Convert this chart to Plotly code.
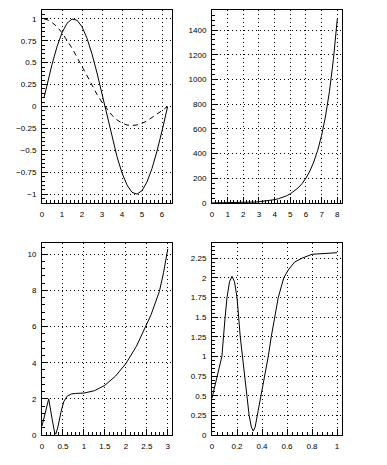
import plotly.graph_objects as go

# ---- data ----
p1_x = [0.1, 0.25, 0.5, 0.75, 1.0, 1.25, 1.5, 1.75, 2.0, 2.25, 2.5, 2.75, 3.0, 3.25,
        3.5, 3.75, 4.0, 4.25, 4.5, 4.75, 5.0, 5.25, 5.5, 5.75, 6.0, 6.25, 6.28]
p1_solid = [0.10, 0.247, 0.479, 0.682, 0.841, 0.949, 0.997, 0.984, 0.909, 0.778, 0.598,
            0.382, 0.141, -0.108, -0.351, -0.572, -0.757, -0.895, -0.978, -0.999, -0.959,
            -0.859, -0.706, -0.508, -0.279, -0.033, -0.003]
p1_dashed = [0.998, 0.990, 0.959, 0.909, 0.841, 0.759, 0.665, 0.562, 0.455, 0.346, 0.239,
             0.139, 0.047, -0.033, -0.100, -0.153, -0.189, -0.211, -0.217, -0.210, -0.192,
             -0.164, -0.128, -0.088, -0.047, -0.005, 0.0]

p2_x = [0, 0.25, 0.5, 0.75, 1, 1.25, 1.5, 1.75, 2, 2.25, 2.5, 2.75, 3, 3.25, 3.5, 3.75,
        4, 4.25, 4.5, 4.75, 5, 5.25, 5.5, 5.75, 6, 6.25, 6.5, 6.75, 7, 7.25, 7.5, 7.75, 8]
p2_y = [0.5, 0.64, 0.82, 1.06, 1.36, 1.75, 2.24, 2.88, 3.7, 4.7, 6.1, 7.8, 10.0, 12.9,
        16.6, 21.3, 27.3, 35.0, 45.0, 57.8, 74.2, 95.3, 122.3, 157.1, 201.7, 259.0,
        332.6, 427.0, 548.3, 704.1, 904.0, 1160.8, 1490.5]

p3_x = [0, 0.08, 0.16, 0.24, 0.30, 0.33, 0.38, 0.45, 0.52, 0.60, 0.70, 0.80, 0.90, 1.0,
        1.25, 1.5, 1.75, 2.0, 2.25, 2.5, 2.6, 2.7, 2.8, 2.9, 3.0]
p3_y = [0.5, 1.25, 2.0, 0.9, 0.15, 0.05, 0.45, 1.25, 1.85, 2.15, 2.27, 2.30, 2.31, 2.32,
        2.45, 2.75, 3.25, 3.95, 4.9, 6.1, 6.65, 7.3, 7.95, 9.0, 10.3]

p4_x = [0, 0.047, 0.079, 0.105, 0.12, 0.14, 0.16, 0.18, 0.2, 0.226, 0.245, 0.28, 0.297,
        0.315, 0.33, 0.345, 0.363, 0.395, 0.42, 0.45, 0.474, 0.5, 0.53, 0.574, 0.61,
        0.66, 0.72, 0.8, 0.9, 1.0]
p4_y = [0.47, 0.79, 1.0, 1.5, 1.75, 1.95, 2.02, 1.95, 1.75, 1.25, 1.0, 0.5, 0.25, 0.1,
        0.05, 0.1, 0.25, 0.5, 0.75, 1.0, 1.25, 1.5, 1.75, 2.0, 2.1, 2.2, 2.25, 2.3,
        2.31, 2.32]

# ---- layout helpers ----
W, H = 387, 465
FONT = dict(family="Liberation Sans", size=8, color="black")


def xd(l, r):
    return [l / W, r / W]


def yd(t, b):
    return [1 - b / H, 1 - t / H]


def axis(domain, rng, dtick, minor, anchor):
    return dict(
        domain=domain, range=rng, anchor=anchor, dtick=dtick, tick0=0,
        automargin=False,
        showline=True, mirror=True, linecolor="black", linewidth=1,
        ticks="inside", ticklen=6, tickcolor="black", tickwidth=1,
        minor=dict(ticks="inside", ticklen=3, dtick=minor, tick0=0,
                   tickcolor="black", tickwidth=1, showgrid=False),
        showgrid=True, gridcolor="black", gridwidth=1, griddash="1px,3px",
        zeroline=False, tickfont=FONT, ticklabelstandoff=3, fixedrange=True,
    )


fig = go.Figure()
line = dict(color="black", width=1)
fig.add_trace(go.Scatter(x=p1_x, y=p1_solid, mode="lines", line=line, xaxis="x", yaxis="y"))
fig.add_trace(go.Scatter(x=p1_x, y=p1_dashed, mode="lines",
                         line=dict(color="black", width=1, dash="5px,4px"), xaxis="x", yaxis="y"))
fig.add_trace(go.Scatter(x=p2_x, y=p2_y, mode="lines", line=line, xaxis="x2", yaxis="y2"))
fig.add_trace(go.Scatter(x=p3_x, y=p3_y, mode="lines", line=line, xaxis="x3", yaxis="y3"))
fig.add_trace(go.Scatter(x=p4_x, y=p4_y, mode="lines", line=line, xaxis="x4", yaxis="y4"))

top = yd(10, 203)
bot = yd(242.5, 435)
left = xd(42, 172)
right = xd(212, 342)

fig.update_layout(
    template="none",
    width=W, height=H, autosize=False,
    margin=dict(l=0, r=0, t=0, b=0, pad=0),
    paper_bgcolor="white", plot_bgcolor="white",
    showlegend=False,
    xaxis=axis(left, [0, 6.5], 1, 0.2, "y"),
    yaxis=axis(top, [-1.1, 1.1], 0.25, 0.05, "x"),
    xaxis2=axis(right, [0, 8.3], 1, 0.2, "y2"),
    yaxis2=axis(top, [0, 1562], 200, 40, "x2"),
    xaxis3=axis(left, [0, 3.1], 0.5, 0.1, "y3"),
    yaxis3=axis(bot, [0, 10.65], 2, 0.4, "x3"),
    xaxis4=axis(right, [0, 1.04], 0.2, 0.04, "y4"),
    yaxis4=axis(bot, [0, 2.45], 0.25, 0.05, "x4"),
)

fig.write_html("out.html", config=dict(displayModeBar=False),
               post_script="document.body.style.margin='0';document.body.style.overflow='hidden';")
